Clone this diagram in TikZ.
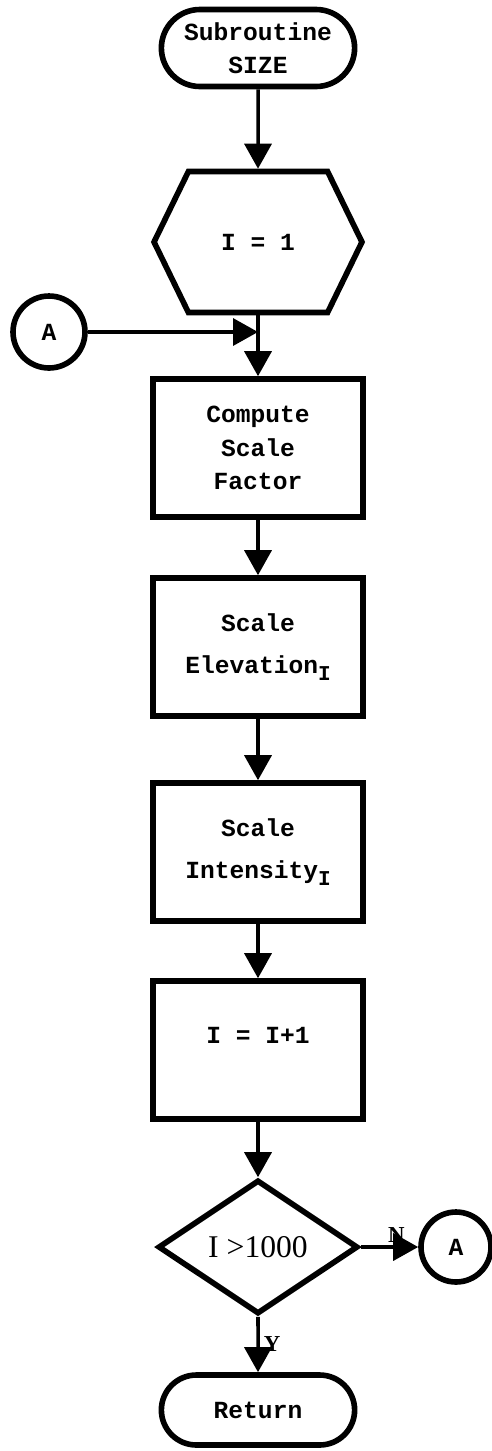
\documentclass[tikz,border=0pt]{standalone}
\usepackage{fontspec}
\setmainfont{Liberation Serif}
\setmonofont{Liberation Mono}
\usetikzlibrary{shapes.geometric,shapes.misc,shapes.symbols,arrows.meta}

\newcommand{\subI}{\raisebox{-0.55ex}{\fontsize{12}{12}\selectfont I}}

\begin{document}
\begin{tikzpicture}[x=0.02cm,y=-0.02cm,
		txt/.style={font=\ttfamily\bfseries\fontsize{14}{19}\selectfont},
		terminal/.style={txt, draw, line width=3.2pt, rounded rectangle, align=center, minimum width=4.1cm},
		prep/.style={txt, draw, line width=3.2pt, signal, signal to=west and east, signal pointer angle=128, minimum width=4.16cm, minimum height=2.82cm},
		process/.style={txt, draw, line width=3.2pt, align=center, minimum width=4.2cm, minimum height=2.76cm},
		decision/.style={draw, line width=3.2pt, diamond, aspect=1.5, inner sep=0pt, minimum width=4cm, minimum height=2.68cm, font=\fontsize{18}{20}\selectfont},
		connector/.style={txt, draw, line width=3.2pt, circle, minimum size=1.4cm, inner sep=0pt},
		flow/.style={line width=2pt, -{Triangle[width=0.54cm,length=0.5cm]}},
		branch/.style={font=\fontsize{13}{14}\selectfont\bfseries},
	]
	\useasboundingbox (0,0) rectangle (491,1451);

	% nodes
	\node[terminal, minimum height=1.54cm] (start) at (258,48) {Subroutine\\SIZE};
	\node[prep] (init) at (258,242) {I = 1};
	\node[connector, minimum size=1.44cm] (entry) at (49,332) {A};
	\coordinate (join) at (258,332);
	\node[process] (factor) at (258,448) {Compute\\Scale\\Factor};
	\node[process] (elev) at (258,647) {Scale\\[5pt]Elevation\subI};
	\node[process] (inten) at (258,852) {Scale\\[5pt]Intensity\subI};
	\node[process] (incr) at (258,1050) {I = I+1\\[-2pt]\mbox{}};
	\node[decision] (test) at (258,1247) {I >1000};
	\node[connector] (loop) at (456,1247) {A};
	\node[terminal, minimum height=1.4cm] (ret) at (258,1410) {Return};

	% flow lines
	\draw[flow] (start) -- (init);
	\draw[line width=2pt] (init.south) -- (join);
	\draw[flow] (join) -- (factor.north);
	\draw[flow] (entry) -- (join);
	\draw[flow] (factor) -- (elev);
	\draw[flow] (elev) -- (inten);
	\draw[flow] (inten) -- (incr);
	\draw[flow] (incr) -- (test);
	\draw[flow] (test) -- node[branch, pos=0.62, above=-2pt] {N} (loop);
	\draw[flow] (test) -- node[branch, pos=0.5, right=-1pt] {Y} (ret);
\end{tikzpicture}
\end{document}
